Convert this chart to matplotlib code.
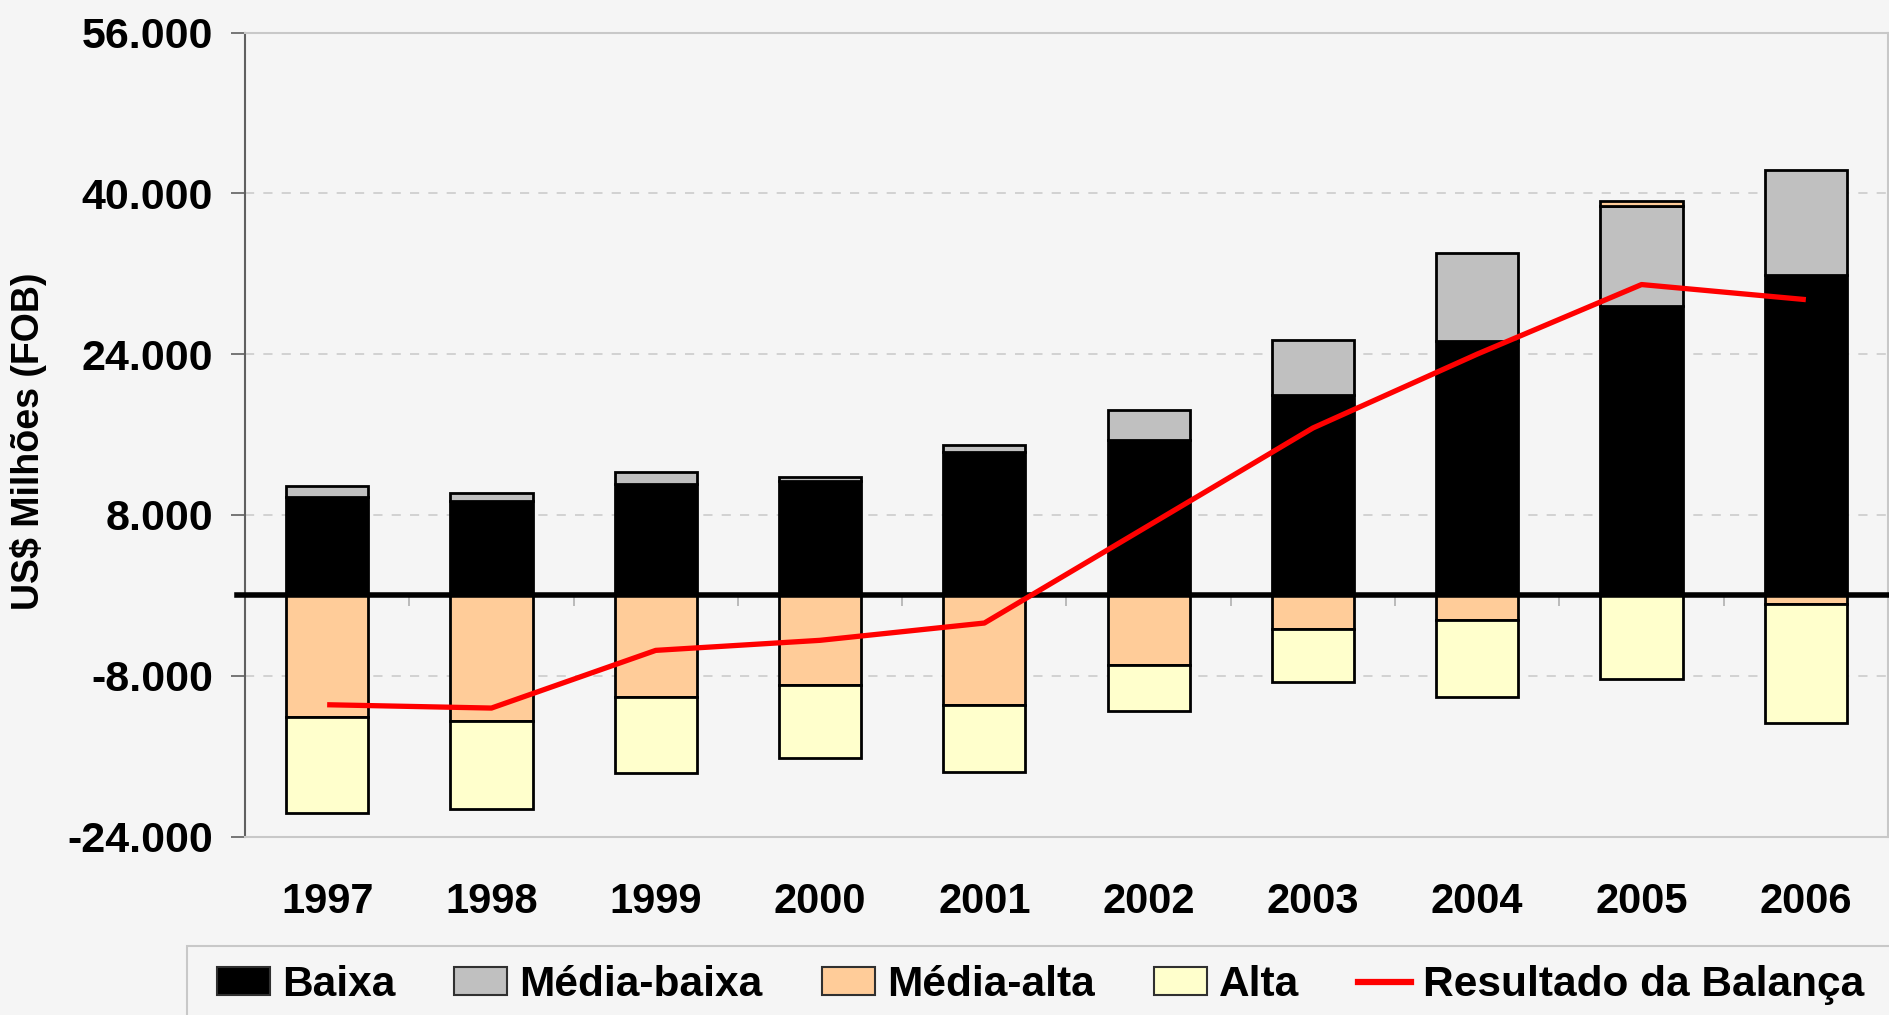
# -*- coding: utf-8 -*-
"""
Balança comercial por intensidade tecnológica, 1997-2006
"""
import matplotlib
matplotlib.use('Agg')
import matplotlib.pyplot as plt
import matplotlib.patches as patches
from matplotlib.lines import Line2D
import numpy as np

plt.rcParams['font.family'] = ['Liberation Sans', 'DejaVu Sans']
plt.rcParams['font.weight'] = 'bold'

# Dados (US$ milhões FOB)
anos = ['1997', '1998', '1999', '2000', '2001', '2002', '2003', '2004', '2005', '2006']
baixa = [9760, 9360, 11120, 11390, 14280, 15430, 19940, 25290, 28750, 31900]
media_baixa = [1130, 800, 1130, 400, 660, 3020, 5420, 8720, 10030, 10460]
media_alta = [-12150, -12550, -10130, -8900, -10890, -6940, -3340, -2500, 490, -870]
alta = [-9530, -8700, -7570, -7270, -6710, -4550, -5300, -7590, -8340, -11870]
resultado = [-10890, -11220, -5480, -4480, -2760, 6940, 16650, 24000, 30920, 29420]

series = [
    ('Baixa', baixa, '#000000'),
    ('Média-baixa', media_baixa, '#c0c0c0'),
    ('Média-alta', media_alta, '#ffcc99'),
    ('Alta', alta, '#ffffcc'),
]

yticks = [-24000, -8000, 8000, 24000, 40000, 56000]

BG = '#f5f5f5'

fig = plt.figure(figsize=(18.9, 10.15), dpi=100, facecolor=BG)
ax = fig.add_axes([245 / 1890, 1 - 836.5 / 1015, 1643 / 1890, 804 / 1015])
ax.set_facecolor('none')

x = np.arange(len(anos))
pos_base = np.zeros(len(anos))
neg_base = np.zeros(len(anos))

# Barras empilhadas (positivos para cima, negativos para baixo)
for nome, valores, cor in series:
    v = np.array(valores, dtype=float)
    base = np.where(v >= 0, pos_base, neg_base)
    ax.bar(x, v, width=0.5, bottom=base, color=cor, edgecolor='black',
           linewidth=2, zorder=3)
    pos_base = pos_base + np.where(v >= 0, v, 0)
    neg_base = neg_base + np.where(v < 0, v, 0)

ax.plot(x, resultado, color='#ff0000', linewidth=3.8, zorder=5,
        solid_capstyle='butt')

# Linha do zero
ax.axhline(0, xmin=-0.005, xmax=1, color='black', linewidth=4, zorder=4,
           clip_on=False)

# Eixos
ax.set_xlim(-0.5, len(anos) - 0.5)
ax.set_ylim(-24000, 56000)
ax.set_yticks(yticks)
ax.set_yticklabels([f'{t:,}'.replace(',', '.') for t in yticks])
ax.tick_params(axis='y', direction='out', length=10, width=1.2,
               color='#606060', labelsize=31, pad=13)
ax.set_xticks(x)
ax.set_xticklabels(anos)
ax.tick_params(axis='x', length=0, labelsize=30, pad=33)
for lbl in ax.get_xticklabels() + ax.get_yticklabels():
    lbl.set_fontweight('bold')

ax.grid(axis='y', color='#c8c8c8', linestyle=(0, (6, 6)), linewidth=1.1,
        zorder=0)

ax.spines['left'].set_color('#606060')
ax.spines['left'].set_linewidth(1.5)
for s in ('top', 'right', 'bottom'):
    ax.spines[s].set_color('#c8c8c8')
    ax.spines[s].set_linewidth(1.5)

# Marcas entre categorias sobre a linha do zero
sec = ax.secondary_xaxis(24000 / 80000)
sec.set_xticks(np.arange(0.5, len(anos) - 0.5, 1.0))
sec.tick_params(axis='x', direction='out', length=8, width=1.2,
                color='#b0b0b0', labelbottom=False)
sec.set_xticklabels([])
sec.spines['bottom'].set_visible(False)

fig.text(29 / 1890, 1 - 441 / 1015, 'US$ Milhões (FOB)', rotation=90,
         ha='center', va='center', fontsize=27, fontweight='bold')

# Caixa da legenda
fig.patches.append(patches.Rectangle((187 / 1890, -0.02), 1.0, 0.02 + 1 - 946 / 1015,
                                     transform=fig.transFigure, facecolor=BG,
                                     edgecolor='#c8c8c8', linewidth=1.5,
                                     zorder=0))

handles = [patches.Patch(facecolor=cor, edgecolor='#303030', linewidth=1.5)
           for _, _, cor in series]
handles.append(Line2D([0], [0], color='#ff0000', linewidth=4.5))
labels = [nome for nome, _, _ in series] + ['Resultado da Balança']

fig.legend(handles, labels, loc='center left',
           bbox_to_anchor=(217 / 1890, 1 - 985 / 1015), ncol=5,
           frameon=False, borderpad=0, borderaxespad=0,
           prop={'size': 30.5, 'weight': 'bold'},
           handlelength=1.25, handleheight=0.62, handletextpad=0.28,
           columnspacing=1.4)

plt.savefig('out.png', dpi=100, facecolor=BG)
